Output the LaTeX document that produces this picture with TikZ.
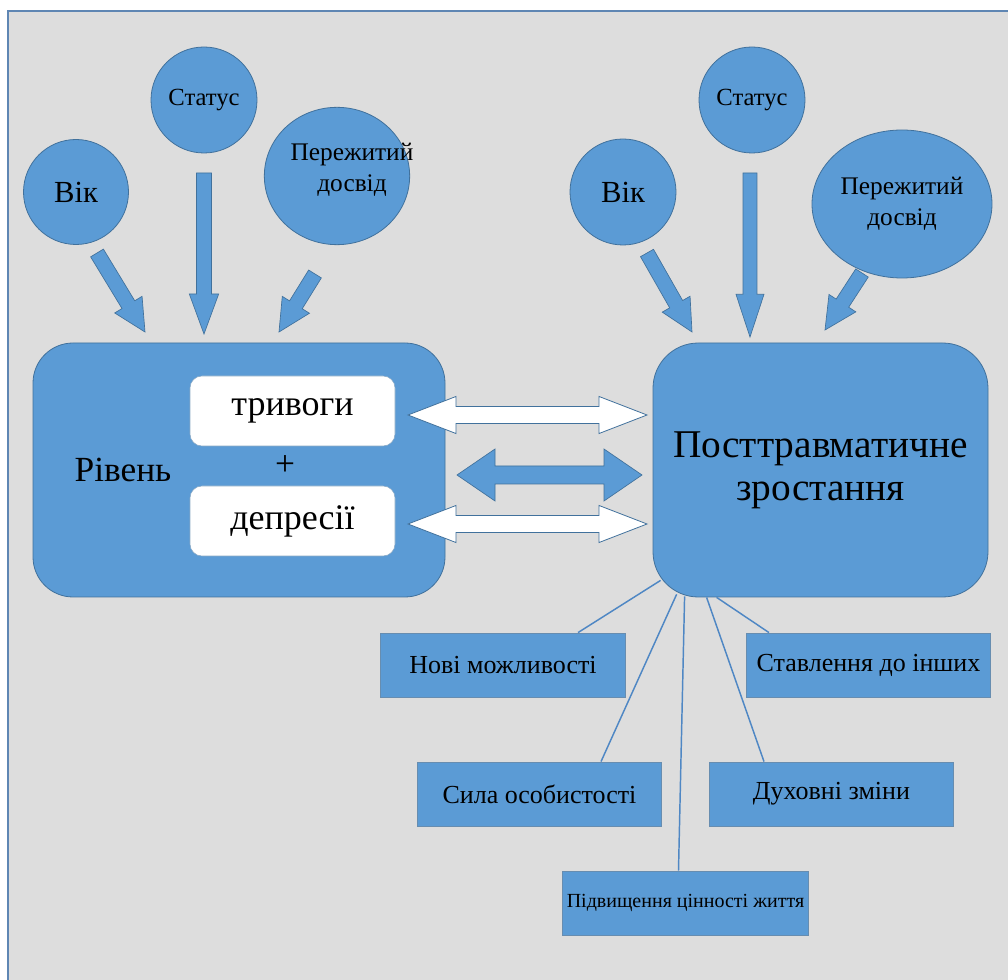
\documentclass[tikz,border=0pt]{standalone}
\usepackage{fontspec}
\setmainfont{Liberation Serif}
\usetikzlibrary{calc,shapes.geometric}
\definecolor{pblue}{HTML}{5B9BD5}
\definecolor{pedge}{HTML}{41719C}
\definecolor{pgray}{HTML}{DDDDDD}
\definecolor{pframe}{HTML}{5F86B3}
\definecolor{plink}{HTML}{4F87C4}
% block arrow: style, tail, tip, half shaft, half head, head length
\newcommand\fatarrow[6]{%
  \path ($(#3)!#6!(#2)$) coordinate (fac);
  \path[#1] ($(#2)!#4!90:(#3)$) -- ($(fac)!#4!90:(#3)$) -- ($(fac)!#5!90:(#3)$) -- (#3)
    -- ($(fac)!#5!-90:(#3)$) -- ($(fac)!#4!-90:(#3)$) -- ($(#2)!#4!-90:(#3)$) -- cycle;}
% double block arrow: style, end a, end b, half shaft, half head, head length
\newcommand\twoway[6]{%
  \path ($(#2)!#6!(#3)$) coordinate (ca) ($(#3)!#6!(#2)$) coordinate (cb);
  \path[#1] (#2) -- ($(ca)!#5!90:(#3)$) -- ($(ca)!#4!90:(#3)$) -- ($(cb)!#4!-90:(#2)$)
    -- ($(cb)!#5!-90:(#2)$) -- (#3) -- ($(cb)!#5!90:(#2)$) -- ($(cb)!#4!90:(#2)$)
    -- ($(ca)!#4!-90:(#3)$) -- ($(ca)!#5!-90:(#3)$) -- cycle;}
\begin{document}
\begin{tikzpicture}[x=0.75pt,y=-0.75pt,
  bubble/.style={circle,fill=pblue,draw=pedge,line width=0.6pt,inner sep=0pt,align=center},
  oval/.style={ellipse,fill=pblue,draw=pedge,line width=0.6pt,inner sep=0pt},
  ovaltext/.style={align=center,inner sep=0pt,font=\fontsize{19}{23}\selectfont},
  bigbox/.style={rectangle,fill=pblue,draw=pedge,line width=0.6pt,minimum height=190.5pt,align=center},
  pill/.style={rectangle,rounded corners=9pt,fill=white,draw=pedge!60,minimum width=153.75pt,minimum height=52.5pt,font=\fontsize{27}{30}\selectfont},
  gain/.style={rectangle,fill=pblue,draw=pedge!80,line width=0.6pt,minimum width=183.5pt,minimum height=48pt,font=\fontsize{19.5}{22}\selectfont},
  fat/.style={fill=pblue,draw=pedge,line width=0.5pt},
  hollow/.style={fill=white,draw=pedge,line width=0.6pt},
  link/.style={draw=plink,line width=1.1pt}]
\useasboundingbox (0,0) rectangle (1008,980);
% page and frame
\fill[white] (0,0) rectangle (1008,980);
\fill[pgray] (8,11) rectangle (1008,980);
\draw[pframe,line width=2.2pt] (8,980) -- (8,11) -- (1008,11);
% factors, left side
\node[bubble,minimum size=78.75pt,font=\fontsize{23}{26}\selectfont] (vikl) at (76,192) {Вік};
\node[bubble,minimum size=79.5pt,font=\fontsize{18.5}{22}\selectfont] (statl) at (204,100) {Статус};
\node[oval,minimum width=109pt,minimum height=103pt] (dosl) at (337,176) {};
\node[ovaltext] (dosltxt) at (352,170) {Пережитий\\досвід};
% factors, right side
\node[bubble,minimum size=79.5pt,font=\fontsize{23}{26}\selectfont] (vikr) at (623,192) {Вік};
\node[bubble,minimum size=79.5pt,font=\fontsize{18.5}{22}\selectfont] (statr) at (752,100) {Статус};
\node[oval,minimum width=135pt,minimum height=111pt] (dosr) at (902,204) {};
\node[ovaltext] (dosrtxt) at (dosr) {Пережитий\\досвід};
% main blocks
\node[bigbox,rounded corners=30pt,minimum width=309pt] (lvl) at (239,470) {};
\node[font=\fontsize{26.5}{30}\selectfont] (rvn) at (123,470) {Рівень};
\node[pill] (trv) at (292.5,411) {тривоги};
\node[font=\fontsize{26.5}{30}\selectfont] (plus) at (285,466) {+};
\node[pill] (dep) at (292.5,521) {депресії};
\node[bigbox,rounded corners=34pt,minimum width=251.25pt,font=\fontsize{29.5}{32}\selectfont] (ptg) at (820.5,470) {Посттравматичне\\зростання};
% arrow ends
\coordinate (a1) at (97,253);  \coordinate (b1) at (145,332);
\coordinate (a2) at (204,173); \coordinate (b2) at (204,334);
\coordinate (a3) at (315,274); \coordinate (b3) at (279,332);
\coordinate (a4) at (647,253); \coordinate (b4) at (692,332);
\coordinate (a5) at (750,173); \coordinate (b5) at (750,337);
\coordinate (a6) at (862,273); \coordinate (b6) at (825,330);
\fatarrow{fat}{a1}{b1}{5.6pt}{12pt}{24pt}
\fatarrow{fat}{a2}{b2}{5.6pt}{11pt}{30pt}
\fatarrow{fat}{a3}{b3}{5.6pt}{12pt}{24pt}
\fatarrow{fat}{a4}{b4}{5.6pt}{12pt}{24pt}
\fatarrow{fat}{a5}{b5}{5.2pt}{10.5pt}{32pt}
\fatarrow{fat}{a6}{b6}{5.6pt}{12pt}{24pt}
% links between the blocks
\coordinate (t1) at (408,415); \coordinate (t2) at (647,415);
\coordinate (m1) at (457,475); \coordinate (m2) at (642,475);
\coordinate (d1) at (408,524); \coordinate (d2) at (647,524);
\twoway{hollow}{t1}{t2}{6.4pt}{13.9pt}{36pt}
\twoway{fat}{m1}{m2}{6.75pt}{19.5pt}{28.5pt}
\twoway{hollow}{d1}{d2}{6.4pt}{13.9pt}{36pt}
% domains of growth
\node[gain] (nm) at (503,665) {Нові можливості};
\node[gain] (st) at (868.5,665) {Ставлення до інших};
\node[gain] (so) at (539.5,794) {Сила особистості};
\node[gain] (dz) at (831.5,794) {Духовні зміни};
\node[gain,font=\fontsize{15}{18}\selectfont] (pc) at (685.5,903) {Підвищення цінності життя};
\draw[link] ($(ptg.south west)+(8,-17)$) -- ($(nm.north)+(75,0)$);
\draw[link] ($(ptg.south west)+(24,-3)$) -- ($(so.north)+(61.5,0)$);
\draw[link] ($(ptg.south west)+(32,-1)$) -- ($(pc.north)+(-7,0)$);
\draw[link] ($(ptg.south west)+(54,0)$) -- ($(dz.north)+(-67.5,0)$);
\draw[link] ($(ptg.south west)+(64,0)$) -- ($(st.north)+(-99.5,0)$);
\end{tikzpicture}
\end{document}
